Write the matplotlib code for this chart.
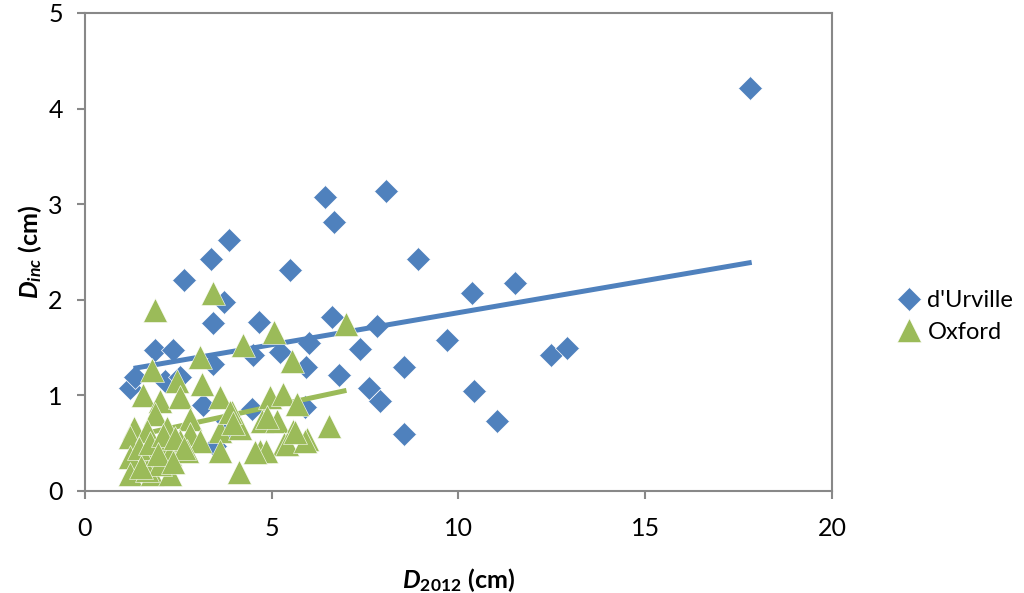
import numpy as np
import matplotlib.pyplot as plt

plt.rcParams['font.family'] = ['Lato', 'DejaVu Sans']
plt.rcParams['mathtext.fontset'] = 'custom'
plt.rcParams['mathtext.rm'] = 'Lato'
plt.rcParams['mathtext.it'] = 'Lato:italic'
plt.rcParams['mathtext.bf'] = 'Lato:bold'
plt.rcParams['mathtext.bfit'] = 'Lato:bold:italic'

# d'Urville trees: diameter 2012 (cm) vs diameter increment (cm)
durville_d2012 = [17.8, 8.07, 6.43, 6.68, 8.92, 10.37, 11.51, 6.61, 7.82, 6.01,
                  7.36, 9.70, 12.47, 12.90, 5.93, 6.80, 8.55, 7.60, 7.89, 10.41,
                  11.04, 8.55, 5.90, 3.86, 3.37, 2.65, 5.48, 3.71, 3.44, 4.65,
                  1.88, 2.35, 3.42, 5.23, 4.51, 1.21, 1.34, 2.14, 2.55, 3.17,
                  4.46, 3.80, 3.49, 3.88]
durville_dinc = [4.22, 3.14, 3.07, 2.81, 2.43, 2.07, 2.17, 1.82, 1.72, 1.55,
                 1.48, 1.58, 1.42, 1.49, 1.29, 1.21, 1.30, 1.08, 0.94, 1.04,
                 0.73, 0.59, 0.88, 2.62, 2.43, 2.21, 2.31, 1.98, 1.76, 1.77,
                 1.47, 1.47, 1.33, 1.45, 1.42, 1.07, 1.19, 1.15, 1.19, 0.90,
                 0.86, 0.73, 0.47, 0.66]

# Oxford trees
oxford_d2012 = [1.88, 3.44, 5.05, 7.00, 4.22, 3.08, 5.54, 1.79, 2.46, 3.13,
                1.56, 2.01, 2.55, 3.62, 4.96, 5.30, 5.68, 3.93, 1.88, 2.82,
                4.74, 5.14, 6.52, 1.30, 1.21, 1.65, 2.19, 2.82, 3.62, 4.16,
                5.58, 5.94, 5.32, 4.69, 4.85, 3.62, 3.08, 2.55, 2.01, 1.21,
                1.65, 2.28, 2.73, 1.21, 1.79, 2.28, 4.11, 1.65, 2.01, 4.55,
                5.40, 5.89, 5.62, 3.88, 3.97, 4.86, 1.45, 1.75, 2.10, 2.40,
                2.65, 1.50, 1.95, 2.35]
oxford_dinc = [1.89, 2.07, 1.66, 1.75, 1.52, 1.40, 1.36, 1.26, 1.15, 1.12,
               1.00, 0.94, 0.98, 0.98, 0.98, 1.01, 0.91, 0.82, 0.80, 0.75,
               0.73, 0.73, 0.68, 0.66, 0.56, 0.63, 0.66, 0.59, 0.63, 0.66,
               0.63, 0.54, 0.49, 0.42, 0.42, 0.42, 0.52, 0.52, 0.49, 0.35,
               0.35, 0.38, 0.42, 0.18, 0.18, 0.18, 0.20, 0.22, 0.28, 0.40,
               0.49, 0.52, 0.61, 0.82, 0.71, 0.77, 0.45, 0.50, 0.58, 0.55,
               0.45, 0.25, 0.38, 0.30]

# linear trendlines (start, end)
durville_trend_x = [1.30, 17.85]
durville_trend_y = [1.28, 2.39]
oxford_trend_x = [1.20, 7.00]
oxford_trend_y = [0.565, 1.05]

blue = '#4F81BD'
green = '#9BBB59'
gray = '#888888'

fig = plt.figure(figsize=(10.24, 5.93), dpi=100)
ax = fig.add_axes([0.083, 0.1725, 0.7295, 0.8056])

ax.plot(durville_d2012, durville_dinc, linestyle='none', marker='D', ms=12.5,
        color=blue, mec='white', mew=0.5, label="d'Urville", zorder=2)
ax.plot(durville_trend_x, durville_trend_y, color=blue, lw=3.6,
        solid_capstyle='butt', zorder=3)
ax.plot(oxford_trend_x, oxford_trend_y, color=green, lw=3.6,
        solid_capstyle='butt', zorder=3)
ax.plot(oxford_d2012, oxford_dinc, linestyle='none', marker='^', ms=17,
        color=green, mec='white', mew=0.4, label='Oxford', zorder=4)

ax.set_xlim(0, 20)
ax.set_ylim(0, 5)
ax.set_xticks([0, 5, 10, 15, 20])
ax.set_yticks([0, 1, 2, 3, 4, 5])
ax.tick_params(direction='out', length=6, width=1.5, color=gray,
               labelsize=18, pad=10)
ax.tick_params(axis='x', pad=13)
for sp in ax.spines.values():
    sp.set_color(gray)
    sp.set_linewidth(1.5)

ax.set_xlabel(r'$\mathbfit{D}_{\mathbf{2012}}$ (cm)', fontsize=18,
              fontweight='bold', labelpad=19)
ax.set_ylabel(r'$\mathbfit{D}_{\mathbfit{inc}}$ (cm)', fontsize=18,
              fontweight='bold', labelpad=3)

leg = ax.legend(loc='center left', bbox_to_anchor=(1.055, 0.365), frameon=False,
                fontsize=17, handletextpad=0.2, labelspacing=0.45,
                handlelength=1.2)

fig.savefig('out.png', dpi=100)
